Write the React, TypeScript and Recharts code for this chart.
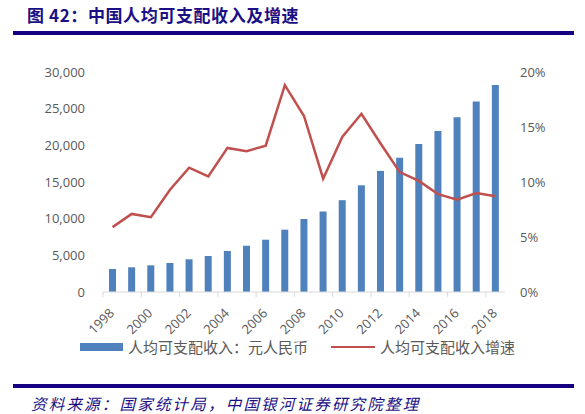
import React from "react";
import {
  ComposedChart,
  Bar,
  Line,
  XAxis,
  YAxis,
  Legend,
} from "recharts";

const years = [
  "1998", "1999", "2000", "2001", "2002", "2003", "2004", "2005", "2006", "2007",
  "2008", "2009", "2010", "2011", "2012", "2013", "2014", "2015", "2016", "2017", "2018",
];
const income = [
  3136, 3370, 3640, 3955, 4460, 4910, 5590, 6310, 7130, 8500,
  9957, 10977, 12520, 14551, 16510, 18311, 20167, 21966, 23821, 25974, 28228,
];
const growth = [
  5.9, 7.1, 6.8, 9.3, 11.3, 10.5, 13.1, 12.8, 13.3, 18.8,
  16.0, 10.3, 14.1, 16.2, 13.5, 10.9, 10.1, 8.9, 8.4, 9.0, 8.7,
];
const leftTicks = [0, 5000, 10000, 15000, 20000, 25000, 30000];
const rightTicks = [0, 5, 10, 15, 20];

const incomeName = "人均可支配收入：元人民币";
const growthName = "人均可支配收入增速";
const titleText = "图 42：中国人均可支配收入及增速";
const sourceText = "资料来源：国家统计局，中国银河证券研究院整理";

const data = years.map((y, i) => ({ year: y, income: income[i], growth: growth[i] }));

const NAVY = "#1a0f84";
const GREY = "#595959";
const AXIS = "#d9d9d9";
const LABEL_FONT = "'Open Sans', 'Liberation Sans', sans-serif";
const CJK = "'Noto Sans CJK SC', sans-serif";

const XTick = (props: any) => {
  const { x, y, payload, width } = props;
  const band = (typeof width === "number" && width > 0 ? width : 402) / years.length;
  const tx = x + 2.5;
  const ty = y + 22;
  return (
    <g>
      <line x1={x - band / 2} x2={x - band / 2} y1={y} y2={y + 5} stroke={AXIS} strokeWidth={1} />
      <text
        x={tx}
        y={ty}
        textAnchor="end"
        transform={`rotate(-45, ${tx}, ${ty})`}
        fill={GREY}
        fontSize={13}
        fontFamily={LABEL_FONT}
      >
        {payload.value}
      </text>
    </g>
  );
};

const renderLegend = (props: any) => {
  const items = [...(props.payload || [])].sort(
    (a: any, b: any) => (a.type === "line" ? 1 : 0) - (b.type === "line" ? 1 : 0)
  );
  return (
    <div style={{ display: "flex", alignItems: "center", height: 20 }}>
      {items.map((entry: any, i: number) => (
        <div
          key={i}
          style={{ display: "flex", alignItems: "center", marginRight: i === 0 ? 23 : 0 }}
        >
          {entry.type === "line" ? (
            <div style={{ width: 44, height: 2, background: entry.color }} />
          ) : (
            <div style={{ width: 43, height: 8, background: entry.color }} />
          )}
          <span
            style={{
              marginLeft: 5,
              fontSize: 15,
              color: GREY,
              fontFamily: CJK,
              lineHeight: "20px",
              whiteSpace: "nowrap",
            }}
          >
            {entry.value}
          </span>
        </div>
      ))}
    </div>
  );
};

export default function App() {
  return (
    <div
      style={{
        position: "absolute",
        left: 0,
        top: 0,
        width: 585,
        height: 414,
        background: "#fff",
        overflow: "hidden",
      }}
    >
      <div
        style={{
          position: "absolute",
          left: 27,
          top: 4,
          fontSize: 17,
          lineHeight: "22px",
          fontWeight: 700,
          color: NAVY,
          fontFamily: CJK,
          whiteSpace: "nowrap",
          letterSpacing: 0.6,
        }}
      >
        {titleText}
      </div>
      <div style={{ position: "absolute", left: 13, top: 31, width: 561, height: 4, background: "#150082" }} />

      <div style={{ position: "absolute", left: 0, top: 0 }}>
        <ComposedChart
          width={585}
          height={370}
          data={data}
          margin={{ top: 72, right: 0, bottom: 0, left: 0 }}
        >
          <XAxis
            dataKey="year"
            xAxisId="x"
            height={78}
            interval={1}
            tickSize={0}
            tickMargin={0}
            tickLine={false}
            axisLine={{ stroke: AXIS, strokeWidth: 1 }}
            tick={<XTick />}
          />
          <YAxis
            yAxisId="left"
            orientation="left"
            width={103}
            domain={[0, 30000]}
            ticks={leftTicks}
            tickSize={0}
            tickMargin={18}
            axisLine={false}
            tickLine={false}
            tickFormatter={(v: number) => v.toLocaleString("en-US")}
            tick={{ fill: GREY, fontSize: 13, fontFamily: LABEL_FONT }}
          />
          <YAxis
            yAxisId="right"
            orientation="right"
            width={80}
            domain={[0, 20]}
            ticks={rightTicks}
            tickSize={0}
            tickMargin={15}
            axisLine={false}
            tickLine={false}
            tickFormatter={(v: number) => `${v}%`}
            tick={{ fill: GREY, fontSize: 13, fontFamily: LABEL_FONT, textAnchor: "start" }}
          />
          <Bar
            xAxisId="x"
            yAxisId="left"
            dataKey="income"
            name={incomeName}
            fill="#4f81bd"
            barSize={7}
            isAnimationActive={false}
            legendType="rect"
          />
          <Line
            xAxisId="x"
            yAxisId="right"
            dataKey="growth"
            name={growthName}
            stroke="#c0504d"
            strokeWidth={2.5}
            dot={false}
            activeDot={false}
            type="linear"
            isAnimationActive={false}
            legendType="line"
          />
          <Legend
            layout="horizontal"
            verticalAlign="middle"
            align="center"
            content={renderLegend}
            wrapperStyle={{ top: 337, left: 80, width: 500, height: 20 }}
          />
        </ComposedChart>
      </div>

      <div style={{ position: "absolute", left: 13, top: 384, width: 561, height: 4, background: "#150082" }} />
      <div
        style={{
          position: "absolute",
          left: 31,
          top: 394,
          fontSize: 15.5,
          lineHeight: "19px",
          fontStyle: "italic",
          color: NAVY,
          fontFamily: CJK,
          whiteSpace: "nowrap",
          letterSpacing: 2.2,
        }}
      >
        {sourceText}
      </div>
    </div>
  );
}
